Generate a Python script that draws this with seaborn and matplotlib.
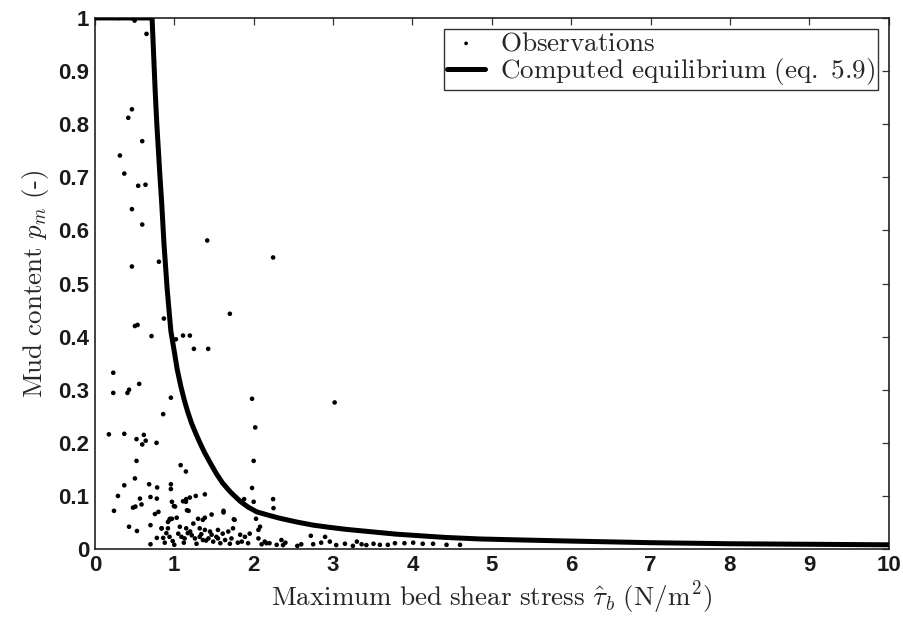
import numpy as np
import pandas as pd
import matplotlib
matplotlib.use("Agg")
import matplotlib.pyplot as plt
import seaborn as sns

# Observations (bed shear stress, mud content)
obs_x = [0.30, 0.45, 0.50, 0.65, 0.466, 0.42, 0.596, 0.315, 0.37, 0.545, 0.637, 0.466,
         0.596, 1.415, 2.245, 0.466, 0.806, 1.70, 0.869, 0.504, 0.537, 0.713, 1.02, 1.11,
         1.196, 1.247, 1.427, 0.231, 0.558, 0.231, 0.41, 0.43, 0.957, 1.98, 0.86, 2.02,
         0.176, 0.37, 0.524, 0.616, 0.64, 0.596, 0.776, 0.524, 2.0, 1.08, 1.146, 0.504,
         0.37, 0.683, 0.784, 0.957, 0.957, 1.98, 0.29, 0.567, 0.70, 0.587, 0.48, 0.51,
         0.24, 0.97, 0.995, 1.146, 1.196, 1.27, 1.385, 1.16, 0.756, 0.80, 1.03, 1.30,
         1.385, 1.47, 1.62, 1.75, 1.88, 2.0, 2.245, 2.25, 2.03, 2.08, 0.43, 0.53,
         0.70, 0.84, 0.92, 0.945, 0.70, 2.35, 2.16, 3.02, 2.72, 2.37, 2.60, 2.75,
         2.90, 2.96, 3.04, 3.30, 3.36, 3.42, 3.51, 3.59, 3.69, 3.78, 3.90, 4.01,
         4.13, 4.26, 4.43, 1.01, 1.11, 1.15, 1.18, 0.94, 0.97, 1.36, 1.24, 1.07,
         0.84, 0.92, 1.32, 1.385, 1.45, 0.78, 0.86, 0.94, 1.05, 1.09, 1.13, 1.22,
         1.26, 1.32, 1.36, 1.43, 1.49, 1.53, 1.15, 1.20, 0.78, 1.62, 1.76, 2.06,
         1.55, 1.61, 1.68, 1.74, 1.83, 1.89, 1.95, 1.55, 1.64, 1.72, 1.85, 1.93,
         2.06, 2.14, 2.20, 2.29, 0.88, 0.98, 1.00, 1.12, 1.28, 1.40, 1.58, 1.70,
         1.80, 2.10, 2.40, 2.55, 2.85, 3.15, 3.25, 4.60, 0.90, 1.17, 1.34, 1.47]
obs_y = [1.0, 1.0, 0.995, 0.97, 0.828, 0.812, 0.768, 0.741, 0.707, 0.684, 0.686, 0.640,
         0.611, 0.581, 0.549, 0.532, 0.541, 0.443, 0.434, 0.420, 0.422, 0.401, 0.395, 0.402,
         0.402, 0.377, 0.377, 0.332, 0.311, 0.294, 0.294, 0.300, 0.285, 0.283, 0.254, 0.229,
         0.216, 0.217, 0.207, 0.215, 0.204, 0.197, 0.200, 0.166, 0.166, 0.158, 0.146, 0.133,
         0.120, 0.122, 0.116, 0.122, 0.113, 0.115, 0.100, 0.095, 0.098, 0.084, 0.078, 0.080,
         0.072, 0.089, 0.081, 0.089, 0.097, 0.100, 0.103, 0.073, 0.066, 0.070, 0.059, 0.057,
         0.059, 0.065, 0.069, 0.056, 0.094, 0.089, 0.094, 0.077, 0.057, 0.042, 0.042, 0.034,
         0.045, 0.039, 0.051, 0.057, 0.009, 0.017, 0.011, 0.276, 0.025, 0.0075, 0.009, 0.009,
         0.023, 0.014, 0.0075, 0.014, 0.009, 0.0075, 0.010, 0.008, 0.008, 0.011, 0.011, 0.012,
         0.010, 0.010, 0.008, 0.080, 0.090, 0.094, 0.072, 0.055, 0.057, 0.055, 0.048, 0.042,
         0.039, 0.039, 0.039, 0.036, 0.033, 0.021, 0.021, 0.023, 0.029, 0.023, 0.020, 0.026,
         0.020, 0.023, 0.017, 0.020, 0.014, 0.023, 0.039, 0.033, 0.095, 0.072, 0.055, 0.036,
         0.036, 0.029, 0.033, 0.039, 0.027, 0.023, 0.029, 0.020, 0.017, 0.020, 0.014, 0.011,
         0.020, 0.014, 0.011, 0.008, 0.012, 0.015, 0.008, 0.012, 0.010, 0.016, 0.011, 0.010,
         0.012, 0.009, 0.012, 0.006, 0.012, 0.010, 0.006, 0.008, 0.030, 0.030, 0.028, 0.027]

# Computed equilibrium curve (eq. 5.9)
eq_x = [0.0, 0.72, 0.74, 0.76, 0.78, 0.80, 0.82, 0.84, 0.87, 0.91, 0.957, 1.00,
        1.037, 1.08, 1.125, 1.17, 1.22, 1.27, 1.32, 1.38, 1.45, 1.53, 1.61, 1.71,
        1.83, 1.93, 2.04, 2.18, 2.33, 2.54, 2.75, 2.95, 3.17, 3.38, 3.59, 3.80,
        4.0, 4.4, 4.85, 5.4, 6.0, 7.0, 8.0, 9.0, 10.0]
eq_y = [1.0, 1.0, 0.93, 0.86, 0.80, 0.75, 0.70, 0.655, 0.575, 0.49, 0.41, 0.372,
        0.338, 0.308, 0.281, 0.258, 0.236, 0.218, 0.201, 0.182, 0.163, 0.142, 0.124, 0.107,
        0.090, 0.079, 0.070, 0.064, 0.058, 0.051, 0.045, 0.041, 0.037, 0.034, 0.031, 0.028,
        0.026, 0.022, 0.019, 0.017, 0.015, 0.012, 0.010, 0.009, 0.008]

x_ticks = list(range(0, 11))
x_tick_labels = [str(v) for v in x_ticks]
y_ticks = [0, 0.1, 0.2, 0.3, 0.4, 0.5, 0.6, 0.7, 0.8, 0.9, 1]
y_tick_labels = ["0", "0.1", "0.2", "0.3", "0.4", "0.5", "0.6", "0.7", "0.8", "0.9", "1"]

obs_df = pd.DataFrame({"x": obs_x, "y": obs_y})
eq_df = pd.DataFrame({"x": eq_x, "y": eq_y})

sns.set_style("white")
plt.rcParams["font.family"] = ["Liberation Serif", "DejaVu Serif"]
plt.rcParams["mathtext.fontset"] = "cm"

fig = plt.figure(figsize=(9.04, 6.19), dpi=100)
ax = fig.add_axes([0.105, 0.113, 0.878, 0.858])

sns.scatterplot(data=obs_df, x="x", y="y", ax=ax, color="black", s=11,
                edgecolor="none", marker="o",
                label=r"$\mathrm{Observations}$", zorder=3)
sns.lineplot(data=eq_df, x="x", y="y", ax=ax, color="black", linewidth=3.6,
             label=r"$\mathrm{Computed\ equilibrium\ (eq.\ 5.9)}$", sort=False, zorder=4)

ax.set_xlim(0, 10)
ax.set_ylim(0, 1)
ax.set_xticks(x_ticks)
ax.set_xticklabels(x_tick_labels)
ax.set_yticks(y_ticks)
ax.set_yticklabels(y_tick_labels)
for lab in ax.get_xticklabels() + ax.get_yticklabels():
    lab.set_family(["Liberation Sans", "DejaVu Sans"])
    lab.set_fontsize(16)
    lab.set_fontweight("bold")
    lab.set_color("#1a1a1a")
ax.tick_params(direction="in", top=True, right=True, length=5, width=0.9,
               color="#333333", pad=4)
for sp in ax.spines.values():
    sp.set_color("#222222")
    sp.set_linewidth(1.2)

ax.set_xlabel(r"$\mathrm{Maximum\ bed\ shear\ stress}\ \hat{\tau}_b\ \mathrm{(N/m^2)}$",
              fontsize=19.5, labelpad=3)
ax.set_ylabel(r"$\mathrm{Mud\ content}\ p_m\ \mathrm{(\text{-})}$", fontsize=19.5, labelpad=5)

leg = ax.legend(loc="upper right", fontsize=19.5, frameon=True, fancybox=False,
                borderpad=0.1, labelspacing=0.0, handlelength=1.4,
                handletextpad=0.55, borderaxespad=0.4, markerscale=0.8)
leg.get_frame().set_edgecolor("black")
leg.get_frame().set_linewidth(1.0)

fig.savefig("out.png", dpi=100)
